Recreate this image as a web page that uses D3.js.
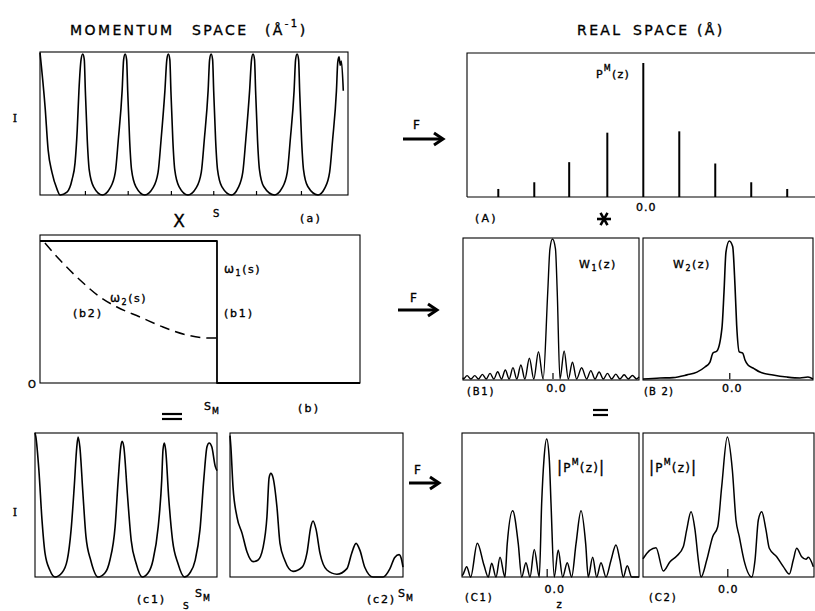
<!DOCTYPE html>
<html>
<head>
<meta charset="utf-8">
<script src="https://cdn.jsdelivr.net/npm/d3@7"></script>
<style>
  body { margin: 0; background: #fff; }
  svg text { font-family: "DejaVu Sans", sans-serif; fill: #000; stroke: #000; stroke-width: 0.35px; }
</style>
</head>
<body>
<svg id="fig" width="815" height="611"></svg>
<script>
// ---- data ----
// (a) measured intensity I(s), momentum space  [s, I]
const aCurve = [
  [0,1.01],[0.12,0.62],[0.19,0.32],[0.28,0.16],[0.40,0.04],[0.47,0],[0.63,0.02],[0.75,0.11],[0.82,0.23],[0.87,0.46],[0.91,0.74],[0.96,0.96],[1.0,1.0],
  [1.035,0.96],[1.06,0.74],[1.105,0.39],[1.15,0.18],[1.25,0.06],[1.46,0],[1.64,0.05],[1.76,0.16],[1.83,0.39],[1.92,0.74],[1.955,0.96],[1.99,1.0],
  [2.025,0.96],[2.05,0.74],[2.095,0.39],[2.14,0.18],[2.24,0.06],[2.45,0],[2.64,0.05],[2.76,0.16],[2.83,0.39],[2.92,0.74],[2.965,0.96],[3.0,1.0],
  [3.035,0.96],[3.06,0.74],[3.105,0.39],[3.15,0.18],[3.25,0.06],[3.46,0],[3.65,0.05],[3.77,0.16],[3.84,0.39],[3.93,0.74],[3.965,0.96],[4.0,1.0],
  [4.035,0.96],[4.06,0.74],[4.105,0.39],[4.15,0.18],[4.25,0.06],[4.48,0],[4.63,0.05],[4.74,0.16],[4.81,0.39],[4.9,0.74],[4.945,0.96],[4.98,1.0],
  [5.015,0.96],[5.04,0.74],[5.085,0.39],[5.13,0.18],[5.23,0.06],[5.48,0],[5.66,0.05],[5.78,0.16],[5.85,0.39],[5.94,0.74],[5.975,0.96],[6.01,1.0],
  [6.045,0.96],[6.07,0.74],[6.115,0.39],[6.16,0.18],[6.26,0.06],[6.5,0],[6.66,0.05],[6.77,0.16],[6.84,0.39],[6.93,0.74],[6.96,0.94],[6.99,0.98],
  [7.02,0.92],[7.045,0.95],[7.09,0.74]
];
const aTicks = [1.05, 2.05, 3.06, 4.05, 5.05, 6.1];

// (A) P^M(z) delta spikes
const spikeZ = [-4.03, -3.03, -2.06, -1.0, 0, 1.0, 2.0, 3.0, 4.0];
const spikeH = [0.06, 0.11, 0.26, 0.48, 1.0, 0.49, 0.25, 0.11, 0.06];

// (b) window functions  [s/sM, w]
const w1Curve = [[0, 1], [1, 1], [1, 0], [1.808, 0]];
const w2Curve = [[0.028,0.986],[0.113,0.866],[0.226,0.725],[0.339,0.606],[0.435,0.535],[0.565,0.465],[0.695,0.394],[0.831,0.338],[0.96,0.317],[1.0,0.317]];

// (B1) W1(z)
const W1Curve = [
  [-10.53,0.01],[-10.5,0],[-10.05,0.024],[-9.6,0],[-9.15,0.024],[-8.7,0],[-8.25,0.033],[-7.8,0],[-7.35,0.04],[-6.9,0],
  [-6.45,0.052],[-6.0,0],[-5.55,0.064],[-5.1,0],[-4.65,0.081],[-4.2,0],[-3.72,0.10],[-3.25,0],[-2.72,0.148],[-2.2,0],
  [-1.65,0.195],[-1.1,0],[-0.56,0.62],[-0.3,0.93],[0,1],[0.35,0.93],[0.56,0.62],[0.88,0],
  [1.37,0.2],[1.86,0],[2.35,0.12],[2.84,0],[3.43,0.08],[4.02,0],[4.51,0.06],[5.0,0],[5.49,0.05],[5.98,0],
  [6.47,0.04],[6.96,0],[7.45,0.035],[7.94,0],[8.43,0.03],[8.92,0],[9.41,0.025],[9.9,0],[10.18,0.015]
];

// (B2) W2(z)
const W2Curve = [
  [-10.15,0],[-8.15,0.007],[-6.62,0.01],[-4.98,0.03],[-3.8,0.05],[-2.86,0.087],[-2.27,0.123],[-1.92,0.188],[-1.45,0.203],
  [-0.86,0.37],[-0.62,0.63],[-0.39,0.92],[0,1.0],[0.4,0.96],[0.67,0.68],[0.87,0.39],[1.18,0.196],[1.58,0.188],[1.85,0.138],
  [2.2,0.101],[2.79,0.08],[3.61,0.05],[5.14,0.029],[6.79,0.014],[8.32,0.007],[9.26,0.014],[9.84,0]
];

// (c1) product with w1, (c2) product with w2
const c1Curve = [
  [0,1.03],[0.02,1.0],[0.09,0.76],[0.16,0.41],[0.23,0.17],[0.34,0.05],[0.46,0],[0.62,0.03],[0.74,0.12],[0.83,0.34],[0.90,0.64],[0.96,0.93],[0.99,1.0],
  [1.03,0.93],[1.10,0.6],[1.17,0.29],[1.28,0.12],[1.45,0],[1.61,0.03],[1.72,0.12],[1.84,0.36],[1.91,0.69],[1.97,0.93],[2.0,0.97],
  [2.04,0.93],[2.12,0.6],[2.21,0.26],[2.32,0.1],[2.46,0],[2.6,0.03],[2.71,0.12],[2.83,0.36],[2.91,0.69],[2.94,0.91],[2.97,0.957],
  [3.0,0.91],[3.07,0.57],[3.16,0.26],[3.28,0.1],[3.43,0],[3.56,0.03],[3.68,0.12],[3.79,0.34],[3.88,0.71],[3.95,0.93],[4.0,0.957],
  [4.06,0.93],[4.14,0.79],[4.18,0.76]
];
const c2Curve = [
  [0,1.01],[0.02,0.93],[0.07,0.64],[0.16,0.43],[0.28,0.31],[0.39,0.18],[0.53,0.11],[0.64,0.12],[0.76,0.21],[0.85,0.43],[0.9,0.71],[0.94,0.74],[0.99,0.71],
  [1.08,0.5],[1.15,0.24],[1.26,0.12],[1.45,0.04],[1.66,0.07],[1.77,0.17],[1.86,0.36],[1.91,0.4],[1.98,0.34],[2.07,0.17],[2.23,0.05],
  [2.46,0.02],[2.69,0.06],[2.8,0.17],[2.9,0.24],[2.99,0.19],[3.1,0.07],[3.29,0],[3.52,0],[3.68,0.06],[3.79,0.14],[3.89,0.16],[3.95,0.12],[3.98,0.07]
];

// (C1), (C2) |P^M(z)|
const C1Curve = [
  [-9.96,0.01],[-9.88,0.014],[-9.41,0.075],[-8.94,0],[-8.16,0.244],[-7.38,0.087],[-6.87,0],[-6.47,0.1],[-5.96,0],[-5.49,0.143],[-4.91,0],
  [-4.64,0.24],[-4.0,0.48],[-3.34,0.24],[-2.94,0],[-2.44,0.104],[-1.96,0],[-1.46,0.2],[-0.87,0],
  [-0.59,0.534],[-0.32,0.85],[0,1.0],[0.31,0.85],[0.51,0.534],[0.89,0],
  [1.36,0.196],[1.88,0],[2.42,0.104],[2.94,0],[3.45,0.24],[4.04,0.48],[4.59,0.24],[4.89,0],
  [5.41,0.143],[5.88,0],[6.39,0.104],[6.98,0],[7.56,0.12],[8.15,0.232],[8.62,0.12],[9.01,0],[9.48,0.082],[10.0,0],[10.86,0]
];
const C2Curve = [
  [-9.92,0.13],[-9.88,0.134],[-8.39,0.209],[-7.53,0.043],[-6.74,0.109],[-5.95,0.15],[-5.18,0.216],[-4.78,0.336],[-4.27,0.466],
  [-3.8,0.336],[-3.41,0.121],[-3.09,0],[-2.42,0.121],[-1.72,0.288],[-1.13,0.359],[-0.66,0.645],[0,1.0],[0.59,0.766],[1.02,0.407],
  [1.41,0.288],[1.96,0.121],[2.87,0],[3.26,0.121],[3.65,0.407],[4.05,0.466],[4.55,0.336],[4.94,0.205],[5.81,0.145],[6.59,0.074],
  [7.29,0.021],[7.76,0.121],[8.16,0.205],[8.75,0.145],[9.26,0.126],[9.53,0.141],[10.12,0.074]
];

// ---- drawing ----
const svg = d3.select("#fig");
const ink = "#000";

function panel(p) {
  const x = d3.scaleLinear().domain(p.xd).range([p.left, p.right]);
  const y = d3.scaleLinear().domain([0, 1]).range([p.base, p.peak]);
  return { ...p, x, y };
}

function frame(p, sides) {
  const g = svg.append("g").attr("fill", "none").attr("stroke", ink).attr("stroke-width", 1.1);
  if (sides === "all") {
    g.append("rect").attr("x", p.left).attr("y", p.top).attr("width", p.right - p.left).attr("height", p.bottom - p.top);
  } else {
    g.append("path").attr("d", `M${p.left},${p.bottom}V${p.top}H${p.right}M${p.left},${p.bottom}H${p.right}`);
  }
}

function curve(p, data, width = 1.6, dash = null, curveType = d3.curveMonotoneX) {
  const line = d3.line().x(d => p.x(d[0])).y(d => p.y(d[1])).curve(curveType);
  const path = svg.append("path").datum(data).attr("d", line)
    .attr("fill", "none").attr("stroke", ink).attr("stroke-width", width)
    .attr("stroke-linejoin", "round");
  if (dash) path.attr("stroke-dasharray", dash);
}

function centerTick(p, len = 6) {
  svg.append("g").attr("transform", `translate(0,${p.base})`)
    .call(d3.axisBottom(p.x).tickValues([0]).tickSizeInner(-len).tickSizeOuter(0).tickFormat(""))
    .call(g => g.select(".domain").remove())
    .selectAll("line").attr("stroke", ink).attr("stroke-width", 1.2);
}

function rich(x, y, parts, size = 11, anchor = "start", spacing = 1.5) {
  const t = svg.append("text").attr("x", x).attr("y", y).attr("font-size", size)
    .attr("text-anchor", anchor).attr("letter-spacing", spacing);
  parts.forEach(([s, dy = 0, fs = size, weight = "normal"]) => {
    t.append("tspan").attr("dy", dy).attr("font-size", fs).attr("font-weight", weight).text(s);
  });
  return t;
}

function arrow(x0, x1, y, fx, fy) {
  svg.append("line").attr("x1", x0).attr("x2", x1 - 2).attr("y1", y).attr("y2", y)
    .attr("stroke", ink).attr("stroke-width", 3);
  svg.append("path").attr("d", `M${x1 - 9},${y - 6}L${x1},${y}L${x1 - 9},${y + 6}`)
    .attr("fill", "none").attr("stroke", ink).attr("stroke-width", 3);
  rich(fx, fy, [["F"]], 12, "start", 0);
}

function equals(x0, x1, y) {
  [y, y + 5].forEach(yy => svg.append("line").attr("x1", x0).attr("x2", x1).attr("y1", yy).attr("y2", yy)
    .attr("stroke", ink).attr("stroke-width", 2.2));
}

// titles
rich(70, 35, [["MOMENTUM"]], 14, "start", 2.4);
rich(192, 35, [["SPACE"]], 14, "start", 2.4);
rich(265, 35, [["(Å"], ["-1", -8, 10], [")", 8, 14]], 14, "start", 2.4);
rich(577, 35, [["REAL"]], 14, "start", 2.4);
rich(633, 35, [["SPACE"]], 14, "start", 2.4);
rich(697, 35, [["(Å)"]], 14, "start", 2.4);

// ---- (a) ----
const pa = panel({ left: 40, right: 348, top: 52, bottom: 195, base: 195, peak: 54, xd: [0, 7.2] });
frame(pa, "all");
curve(pa, aCurve);
svg.append("g").attr("transform", `translate(0,${pa.base})`)
  .call(d3.axisBottom(pa.x).tickValues(aTicks).tickSizeInner(-4).tickSizeOuter(0).tickFormat(""))
  .call(g => g.select(".domain").remove())
  .selectAll("line").attr("stroke", ink).attr("stroke-width", 1.2);
svg.append("text").attr("x", 15).attr("y", 122).attr("font-size", 11).attr("text-anchor", "middle")
  .style("font-family", "'DejaVu Serif', serif").text("I");
rich(213, 217, [["S"]], 10, "start", 0);
rich(300, 222, [["(a)"]], 11, "start", 2.2);
rich(179, 227, [["X"]], 17, "middle", 0).attr("font-weight", "bold");

// ---- (A) ----
const pA = panel({ left: 467, right: 815, top: 53, bottom: 197, base: 197, peak: 63, xd: [-4.9, 4.8] });
pA.x.range([467, 816]);
frame(pA, "open");
svg.append("g").selectAll("line").data(spikeZ.map((z, i) => [z, spikeH[i]])).join("line")
  .attr("x1", d => pA.x(d[0])).attr("x2", d => pA.x(d[0]))
  .attr("y1", pA.y(0)).attr("y2", d => pA.y(d[1]))
  .attr("stroke", ink).attr("stroke-width", 2);
rich(596, 78, [["P"], ["M", -7, 8], ["(z)", 7, 11]], 11, "start", 1.2);
rich(pA.x(0) + 3, 211, [["0.0"]], 11, "middle", 1);
rich(475, 222, [["(A)"]], 11, "start", 2.2);
// convolution star
[0, 60, 120].forEach(a => svg.append("line")
  .attr("x1", -7).attr("x2", 7).attr("y1", 0).attr("y2", 0)
  .attr("transform", `translate(604,219) rotate(${a})`)
  .attr("stroke", ink).attr("stroke-width", 2.6));

arrow(403, 443, 139, 413, 129);

// ---- (b) ----
const pb = panel({ left: 40, right: 360, top: 235, bottom: 383, base: 383, peak: 241, xd: [0, 1.808] });
frame(pb, "all");
curve(pb, w1Curve, 1.8, null, d3.curveLinear);
curve(pb, w2Curve, 1.5, "10,6");
rich(224, 273, [["ω"], ["1", 3, 8], ["(s)", -3, 11]], 12, "start", 1.5);
rich(224, 317, [["(b1)"]], 11, "start", 1.8);
rich(110, 302, [["ω"], ["2", 3, 8], ["(s)", -3, 11]], 12, "start", 1.5);
rich(73, 317, [["(b2)"]], 11, "start", 1.8);
rich(28, 388, [["O"]], 10, "start", 0);
rich(204, 410, [["S"], ["M", 4, 8]], 11, "start", 1);
rich(298, 412, [["(b)"]], 11, "start", 2.2);
equals(162, 182, 414);

arrow(398, 437, 310, 410, 302);

// ---- (B1), (B2) ----
const pB1 = panel({ left: 463, right: 639, top: 238, bottom: 380, base: 379, peak: 239, xd: [-10.53, 10.18] });
const pB2 = panel({ left: 643, right: 813, top: 238, bottom: 380, base: 379, peak: 241, xd: [-10.15, 9.85] });
frame(pB1, "all");
frame(pB2, "all");
curve(pB1, W1Curve, 1.4);
curve(pB2, W2Curve, 1.6);
centerTick(pB1);
centerTick(pB2);
rich(579, 268, [["W"], ["1", 3, 8], ["(z)", -3, 11]], 11, "start", 1.5);
rich(673, 268, [["W"], ["2", 3, 8], ["(z)", -3, 11]], 11, "start", 1.5);
rich(467, 395, [["(B1)"]], 10, "start", 1.8);
rich(644, 395, [["(B 2)"]], 10, "start", 1.2);
rich(pB1.x(0) + 4, 392, [["0.0"]], 11, "middle", 1);
rich(pB2.x(0) + 3, 392, [["0.0"]], 11, "middle", 1);
equals(593, 608, 410);

// ---- (c1), (c2) ----
const pc1 = panel({ left: 35, right: 217, top: 433, bottom: 577, base: 577, peak: 437, xd: [0, 4.18] });
const pc2 = panel({ left: 230, right: 403, top: 433, bottom: 577, base: 577, peak: 437, xd: [0, 3.98] });
frame(pc1, "all");
frame(pc2, "all");
curve(pc1, c1Curve);
curve(pc2, c2Curve);
svg.append("text").attr("x", 15).attr("y", 516).attr("font-size", 11).attr("text-anchor", "middle")
  .style("font-family", "'DejaVu Serif', serif").text("I");
rich(137, 603, [["(c1)"]], 11, "start", 1.8);
rich(195, 597, [["S"], ["M", 4, 8]], 11, "start", 1);
rich(183, 609, [["S"]], 9, "start", 0);
rich(367, 603, [["(c2)"]], 11, "start", 1.8);
rich(398, 597, [["S"], ["M", 4, 8]], 11, "start", 1);

arrow(409, 439, 483, 414, 474);

// ---- (C1), (C2) ----
const pC1 = panel({ left: 462, right: 639, top: 433, bottom: 577, base: 577, peak: 439, xd: [-9.96, 10.86] });
const pC2 = panel({ left: 643, right: 814, top: 433, bottom: 577, base: 577, peak: 437, xd: [-9.92, 10.2] });
frame(pC1, "all");
frame(pC2, "all");
curve(pC1, C1Curve, 1.5);
curve(pC2, C2Curve, 1.5);
centerTick(pC1, 8);
centerTick(pC2, 8);
rich(557, 472, [["|"], ["P", 0, 12], ["M", -7, 8], ["(z)", 7, 12], ["|", 0, 15]], 15, "start", 1.2);
rich(649, 472, [["|"], ["P", 0, 12], ["M", -7, 8], ["(z)", 7, 12], ["|", 0, 15]], 15, "start", 1.2);
rich(pC1.x(0) + 8, 593, [["0.0"]], 11, "middle", 1);
rich(pC2.x(0) + 1, 593, [["0.0"]], 11, "middle", 1);
rich(465, 601, [["(C1)"]], 10, "start", 1.8);
rich(649, 601, [["(C2)"]], 10, "start", 1.8);
rich(559, 608, [["z"]], 10, "middle", 0).attr("font-weight", "bold");
</script>
</body>
</html>
